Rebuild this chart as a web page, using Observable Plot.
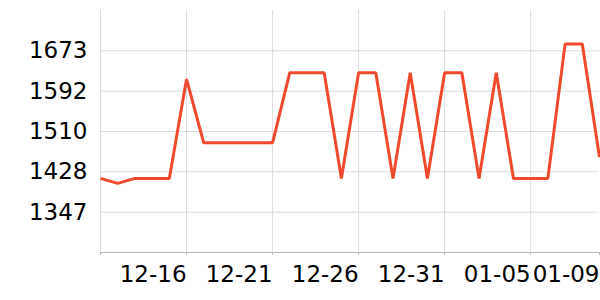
<!DOCTYPE html>
<html>
<head>
<meta charset="utf-8">
<script src="https://cdn.jsdelivr.net/npm/d3@7"></script>
<script src="https://cdn.jsdelivr.net/npm/@observablehq/plot@0.6"></script>
<style>
  html, body { margin: 0; padding: 0; background: #fff; }
  #chart { width: 600px; height: 300px; }
</style>
</head>
<body>
<div id="chart"></div>
<script>
// Dates (one per day) and values
const dates = [
  "2023-12-11","2023-12-12","2023-12-13","2023-12-14","2023-12-15",
  "2023-12-16","2023-12-17","2023-12-18","2023-12-19","2023-12-20",
  "2023-12-21","2023-12-22","2023-12-23","2023-12-24","2023-12-25",
  "2023-12-26","2023-12-27","2023-12-28","2023-12-29","2023-12-30",
  "2023-12-31","2024-01-01","2024-01-02","2024-01-03","2024-01-04",
  "2024-01-05","2024-01-06","2024-01-07","2024-01-08","2024-01-09"
];
const values = [
  1415, 1405, 1415, 1415, 1415,
  1616, 1487, 1487, 1487, 1487,
  1487, 1629, 1629, 1629, 1415,
  1629, 1629, 1415, 1629, 1415,
  1629, 1629, 1415, 1629, 1415,
  1415, 1415, 1687, 1687, 1458
];

// Axis ticks
const xTickDates = ["2023-12-11","2023-12-16","2023-12-21","2023-12-26","2023-12-31","2024-01-05","2024-01-09"];
const xTickLabels = ["", "12-16", "12-21", "12-26", "12-31", "01-05", "01-09"];
const xGridDates = ["2023-12-11","2023-12-16","2023-12-21","2023-12-26","2023-12-31","2024-01-05"];
const yDomain = [1265, 1755];
const yTicks = [1346.67, 1428.33, 1510, 1591.67, 1673.33];
const yTickLabels = ["1347", "1428", "1510", "1592", "1673"];

const data = dates.map((d, i) => ({date: new Date(d + "T00:00:00Z"), value: values[i]}));
const xTicks = xTickDates.map(d => new Date(d + "T00:00:00Z"));
const xGrid = xGridDates.map(d => new Date(d + "T00:00:00Z"));
const xLabelOf = new Map(xTicks.map((d, i) => [+d, xTickLabels[i]]));
const yLabelOf = new Map(yTicks.map((v, i) => [v, yTickLabels[i]]));

const chart = Plot.plot({
  width: 600,
  height: 300,
  marginLeft: 100,
  marginRight: 1,
  marginTop: 10,
  marginBottom: 48,
  style: {fontFamily: "DejaVu Sans", fontSize: "23px", background: "#fff", overflow: "visible"},
  x: {type: "utc", domain: [xTicks[0], xTicks[xTicks.length - 1]]},
  y: {domain: yDomain},
  marks: [
    Plot.gridX(xGrid, {stroke: "#dcdcdc", strokeOpacity: 1, strokeWidth: 1}),
    Plot.gridY(yTicks, {stroke: "#dcdcdc", strokeOpacity: 1, strokeWidth: 1}),
    Plot.ruleY([yDomain[0]], {stroke: "#b8b8b8", strokeWidth: 1}),
    Plot.axisX({
      ticks: xTicks,
      tickSize: 3,
      tickPadding: 10,
      stroke: "#b8b8b8",
      textAnchor: "end",
      fontSize: 23,
      fill: "#000",
      tickFormat: d => xLabelOf.get(+d),
      label: null
    }),
    Plot.axisY({
      ticks: yTicks,
      tickSize: 0,
      tickPadding: 13,
      fontSize: 23,
      fill: "#000",
      tickFormat: v => yLabelOf.get(v),
      label: null
    }),
    Plot.line(data, {x: "date", y: "value", stroke: "#ef4a2d", strokeWidth: 3, strokeLinejoin: "miter", strokeLinecap: "butt"})
  ]
});
document.getElementById("chart").appendChild(chart);
</script>
</body>
</html>
